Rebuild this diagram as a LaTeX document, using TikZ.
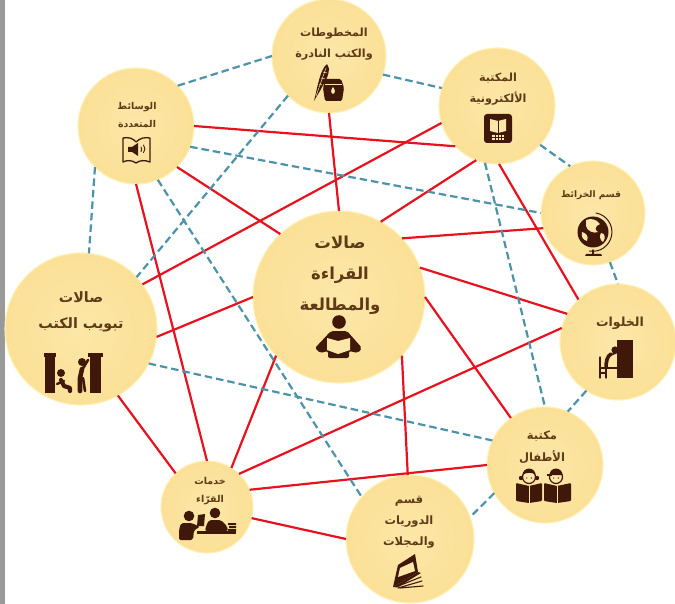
\documentclass[tikz,border=0pt]{standalone}
\usepackage{fontspec}
\TeXXeTstate=1
\newfontfamily\arabicfont[Script=Arabic]{DejaVu Sans}
\definecolor{redline}{HTML}{E8121F}
\definecolor{tealline}{HTML}{4C93A8}
\definecolor{txtbrown}{HTML}{5E3A17}
\definecolor{iconbrown}{HTML}{40180A}
\definecolor{cream}{HTML}{FCE6A8}
\definecolor{rim}{HTML}{FFF0B4}
\definecolor{discin}{HTML}{FCE7A8}
\definecolor{discout}{HTML}{FBE097}
\newcommand{\ar}[1]{\beginR #1\endR}
\tikzset{
  hub/.style={circle,inner sep=0pt,outer sep=0pt,minimum size=#1 pt,shade,inner color=discin,outer color=discout,draw=rim,line width=1.1pt},
  lbl/.style 2 args={text=txtbrown,align=center,inner sep=0pt,font=\arabicfont\bfseries\fontsize{#1}{#2}\selectfont},
  redc/.style={draw=redline,line width=2.2pt},
  tealc/.style={draw=tealline,line width=2.2pt,dash pattern=on 7.5pt off 4pt},
  icon/.style={fill=iconbrown,draw=none},
  iconl/.style={draw=iconbrown,line cap=round,line join=round},
  hole/.style={fill=cream,draw=none}
}
\begin{document}
\begin{tikzpicture}[x=1pt,y=-1pt]
\useasboundingbox (0,0) rectangle (675,604);
\fill[white] (0,0) rectangle (675,604);
\fill[black!40] (0,0) rectangle (4.6,604);

% circles
\node[hub=114] (ms) at (329,56) {};
\node[hub=116] (el) at (497,106) {};
\node[hub=116] (mm) at (136,126) {};
\node[hub=152] (tb) at (81,329) {};
\node[hub=172] (ct) at (339,297) {};
\node[hub=104] (mp) at (593,213) {};
\node[hub=116] (kh) at (618,342) {};
\node[hub=116] (ch) at (545,465) {};
\node[hub=128] (pr) at (410,539) {};
\node[hub=92]  (rd) at (207,507) {};

% red connectors
\draw[redc] (mm.0) -- (el.224);
\draw[redc] (mm.-45) -- (ct.133.5);
\draw[redc] (mm.-90) -- (rd.90);
\draw[redc] (ms.-90) -- (ct.90);
\draw[redc] (el.197.5) -- (tb.36);
\draw[redc] (el.249.6) -- (ct.61);
\draw[redc] (el.-88) -- (kh.133.6);
\draw[redc] (mp.197.7) -- (ct.43);
\draw[redc] (ct.20) -- (kh.151);
\draw[redc] (ct.0) -- (ch.126);
\draw[redc] (ct.-43.6) -- (pr.92);
\draw[redc] (ct.223.6) -- (rd.58);
\draw[redc] (ct.180) -- (tb.-6);
\draw[redc] (kh.166.6) -- (rd.46.8);
\draw[redc] (ch.180) -- (rd.22.5);
\draw[redc] (rd.-14.7) -- (pr.180);
\draw[redc] (tb.-61) -- (rd.133);

% dashed connectors
\draw[tealc] (mm.44) -- (ms.180);
\draw[tealc] (ms.-19) -- (el.162);
\draw[tealc] (el.-42) -- (mp.116.6);
\draw[tealc] (mp.-71) -- (kh.90);
\draw[tealc] (kh.237.7) -- (ch.67.5);
\draw[tealc] (ch.209) -- (pr.20.8);
\draw[tealc] (mm.-21) -- (mp.180);
\draw[tealc] (mm.-68.6) -- (pr.139.5);
\draw[tealc] (mm.225.7) -- (tb.84);
\draw[tealc] (ms.224.3) -- (tb.43);
\draw[tealc] (el.258) -- (ch.90);
\draw[tealc] (tb.-27.5) -- (ch.155.8);

% labels
\node[lbl={16.5}{31}] (lct) at (340,275) {\ar{صالات}\\\ar{القراءة}\\\ar{والمطالعة}};
\node[lbl={14.3}{26}] (ltb) at (81,312) {\ar{صالات}\\\ar{تبويب الكتب}};
\node[lbl={11.2}{21}] (lms) at (334,44) {\ar{المخطوطات}\\\ar{والكتب النادرة}};
\node[lbl={11.2}{21}] (lel) at (498,89) {\ar{المكتبة}\\\ar{الألكترونية}};
\node[lbl={9.4}{18}] (lmm) at (137,115) {\ar{الوسائط}\\\ar{المتعددة}};
\node[lbl={9}{12}] (lmp) at (591,195) {\ar{قسم الخرائط}};
\node[lbl={12.5}{14}] (lkh) at (620,323) {\ar{الخلوات}};
\node[lbl={11.5}{22}] (lch) at (542,447.5) {\ar{مكتبة}\\\ar{الأطفال}};
\node[lbl={11.5}{21}] (lpr) at (409,522) {\ar{قسم}\\\ar{الدوريات}\\\ar{والمجلات}};
\node[lbl={9.5}{18}] (lrd) at (210,491) {\ar{خدمات}\\\ar{القرّاء}};

% icon: reader (centre)
\fill[icon] (339,322) circle (6.8);
\fill[icon,rounded corners=2pt] (331,331) -- (347,331) -- (362,348) -- (358,353) -- (349,351) -- (349,358) -- (328,358) -- (328,351) -- (320,353) -- (315,348) -- cycle;
\fill[hole] (327,338) -- (338,341) -- (350,338) -- (350,350) -- (338,354) -- (327,350) -- cycle;

% icon: quill and ink
\fill[icon] (314,101) .. controls (318,85) and (320,70) .. (327,64) .. controls (331,68) and (328,78) .. (323,85) .. controls (320,92) and (317,95) .. (314,101) -- cycle;
\draw[cream,line width=.5pt] (316,96) -- (326,68) (319,84) -- (322,85) (321,78) -- (325,79) (323,72) -- (327,73);
\fill[icon,rounded corners=1.5pt] (325,79) -- (341,79) -- (344,88) -- (342,101) -- (325,101) -- (323,88) -- cycle;
\draw[cream,line width=.7pt] (325,84) -- (342,84);
\fill[hole] (333,87) .. controls (331,90) and (330,92) .. (333,94) .. controls (336,92) and (335,90) .. (333,87) -- cycle;

% icon: e-library
\fill[icon,rounded corners=3pt] (484,114) rectangle (512,143);
\fill[hole] (490,119) -- (498,121) -- (506,119) -- (506,131) -- (498,133) -- (490,131) -- cycle;
\draw[iconbrown,line width=.7pt] (498,121) -- (498,133);
\fill[hole] (492,135) rectangle (504,140);
\draw[iconbrown,line width=.4pt] (492,137.5) -- (504,137.5) (495,135) -- (495,140) (498,135) -- (498,140) (501,135) -- (501,140);

% icon: multimedia book
\draw[iconl,line width=1.3pt] (123,138) .. controls (128,137) and (133,138) .. (136,142) .. controls (140,138) and (145,137) .. (150,138) -- (150,162) .. controls (145,160) and (140,160) .. (136,163) .. controls (132,160) and (127,160) .. (123,162) -- cycle;
\fill[icon] (128,147) -- (132,147) -- (138,143) -- (138,156) -- (132,152) -- (128,152) -- cycle;
\draw[iconl,line width=.9pt] (141,147) arc (-35:35:4) (143.5,145) arc (-40:40:6);

% icon: cataloguing halls
\fill[icon] (45,356) rectangle (55,393);
\fill[icon] (44,353) rectangle (56,357);
\fill[icon] (90,356) rectangle (101,393);
\fill[icon] (88,353) rectangle (103,357);
\fill[icon] (61,373) circle (4);
\draw[iconl,line width=4.2pt] (61,380) -- (64,386) -- (70,388) -- (70,391);
\draw[iconl,line width=2.4pt] (57,384) -- (64,381);
\fill[icon] (82,362) circle (4);
\draw[iconl,line width=4.6pt] (82,369) -- (80,378) -- (80,391);
\draw[iconl,line width=2.6pt] (82,370) -- (88,360);
\draw[iconl,line width=2.6pt] (83,378) -- (85,391);

% icon: globe
\fill[icon] (593,232) circle (15.5);
\draw[iconl,line width=1pt] (596,213) arc (-80:100:19.3);
\fill[hole] (586,220) .. controls (591,218) and (596,219) .. (600,224) .. controls (595,226) and (594,230) .. (598,232) .. controls (594,234) and (587,231) .. (586,226) -- cycle;
\fill[hole] (601,233) .. controls (605,233) and (606,238) .. (603,242) .. controls (600,240) and (599,236) .. (601,233) -- cycle;
\fill[hole] (582,232) .. controls (586,233) and (589,236) .. (587,241) .. controls (583,240) and (581,237) .. (582,232) -- cycle;
\fill[icon] (586,254) -- (601,254) -- (602,256) -- (585,256) -- cycle;
\draw[iconl,line width=1.2pt] (593,250) -- (593,255);

% icon: private study
\fill[icon] (617,340) rectangle (633,378);
\fill[icon] (615,350) circle (3.6);
\draw[iconl,line width=3.6pt] (611,354) .. controls (607,356) and (606,362) .. (606,368);
\draw[iconl,line width=1.6pt] (611,355) -- (618,352);
\draw[iconl,line width=1.2pt] (600,357) -- (600,378) (600,368) -- (617,368) (606,368) -- (606,378) (600,373) -- (606,373);

% icon: children
\fill[icon,rounded corners=1pt] (516,483) -- (529,486) -- (542,483) -- (542,501) -- (529,503) -- (516,501) -- cycle;
\fill[icon,rounded corners=1pt] (544,483) -- (557,486) -- (571,483) -- (571,501) -- (557,503) -- (544,501) -- cycle;
\draw[cream,line width=.6pt] (529,486) -- (529,503) (557,486) -- (557,503);
\fill[hole] (529,477) circle (6.5);
\draw[iconl,line width=1.2pt] (529,477) circle (6.5);
\fill[icon] (522.5,475) arc (180:360:6.5) .. controls (533,472) and (526,472) .. (522.5,475) -- cycle;
\fill[icon] (521,478) circle (2.2) (537,478) circle (2.2);
\fill[hole] (556,477) circle (6.5);
\draw[iconl,line width=1.2pt] (556,477) circle (6.5);
\fill[icon] (549.5,475) arc (180:360:6.5) -- cycle;
\fill[icon] (547,474) rectangle (552,476);
\fill[icon] (526.7,478) circle (.7) (531.3,478) circle (.7) (553.7,478) circle (.7) (558.3,478) circle (.7);

% icon: periodicals
\fill[icon] (398,565) -- (415,554) -- (418,572) -- (393,587) -- cycle;
\fill[hole] (400,568) -- (413,562) -- (415,571) -- (398,577) -- cycle;
\fill[icon] (393,587) -- (418,572) -- (421,573) -- (398,587) -- cycle;
\draw[iconl,line width=1.1pt] (396,587) -- (421,577) (398,588) -- (422,581) (400,588) -- (423,586);

% icon: reader services
\fill[icon] (189,516) circle (5.3);
\fill[icon,rounded corners=2pt] (181,523) -- (192,523) -- (200,527) -- (194,530) -- (193,540) -- (179,540) -- (179,530) -- cycle;
\fill[icon] (198,515) -- (205,514) -- (204,526) -- (197,526) -- cycle;
\fill[icon] (215,513) circle (5.3);
\fill[icon,rounded corners=2pt] (209,520) -- (221,520) -- (227,526) -- (228,531) -- (205,531) -- (206,526) -- cycle;
\fill[icon] (197,531) rectangle (236,533.5);
\fill[icon] (228,523) rectangle (236,525) (229,526) rectangle (236,528) (228,529) rectangle (236,531);
\end{tikzpicture}
\end{document}
